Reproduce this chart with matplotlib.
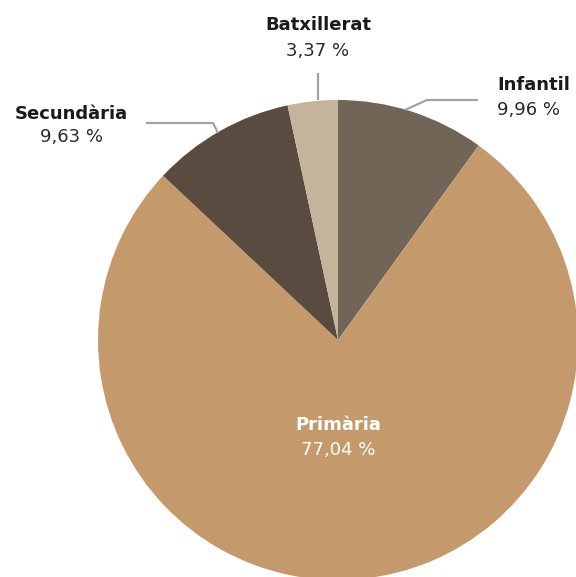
import matplotlib
matplotlib.use('Agg')
import matplotlib.pyplot as plt

# Data
categories = ['Infantil', 'Primària', 'Secundària', 'Batxillerat']
shares = [9.96, 77.04, 9.63, 3.37]
colors = ['#706556', '#c49a6c', '#5a4b40', '#c4b49c']

plt.rcParams['font.family'] = ['DejaVu Sans']

W, H = 576, 577
fig = plt.figure(figsize=(W / 100, H / 100), dpi=100, facecolor='white')

# pie centre (338, 340) px, radius 240 px
cx, cy, r = 338, 340, 240
ax = fig.add_axes([(cx - r) / W, (H - cy - r) / H, 2 * r / W, 2 * r / H])
wedges, _ = ax.pie(shares, colors=colors, startangle=90, counterclock=False,
                   radius=1.0, wedgeprops=dict(linewidth=0))
for w in wedges:
    w.set_clip_on(False)
ax.set_xlim(-1, 1)
ax.set_ylim(-1, 1)
ax.set_aspect('equal')
ax.axis('off')


def px(x, y):
    return ((x - cx) / r, (cy - y) / r)


def fmt(v):
    return f"{v:.2f}".replace('.', ',') + ' %'


line_kw = dict(color='#a3a3a3', lw=1.6, clip_on=False, solid_capstyle='butt')

# Leader lines (annotation guides in pixel space)
leaders = {
    'Infantil': [(405, 110), (427, 100), (478, 100)],
    'Secundària': [(218, 133), (213, 123), (146, 123)],
    'Batxillerat': [(318, 100), (318, 73)],
}
for pts in leaders.values():
    xs, ys = zip(*[px(*p) for p in pts])
    ax.plot(xs, ys, **line_kw)

# label positions: (x, y_name, y_value, ha, colour)
label_pos = {
    'Infantil': (497, 85, 110, 'left', '#1a1a1a'),
    'Primària': (338, 425, 450, 'center', 'white'),
    'Secundària': (71, 114, 137, 'center', '#1a1a1a'),
    'Batxillerat': (318, 25, 51, 'center', '#1a1a1a'),
}
for name, val in zip(categories, shares):
    x, yn, yv, ha, col = label_pos[name]
    ax.text(*px(x, yn), name, ha=ha, va='center', fontsize=13,
            fontweight='bold', color=col, clip_on=False)
    ax.text(*px(x, yv), fmt(val), ha=ha, va='center', fontsize=13,
            fontweight='normal', color='#2a2a2a' if col != 'white' else col,
            clip_on=False)

fig.savefig('out.png', dpi=100, facecolor='white')
